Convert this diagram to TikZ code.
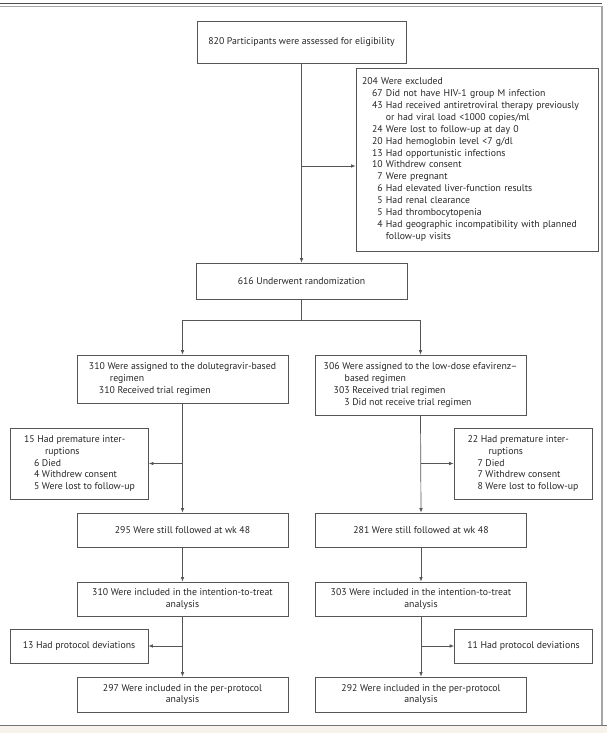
\documentclass[tikz,border=0pt]{standalone}
\usepackage{fontspec}
\setmainfont{PT Sans}
\usepackage{tikz}
\usetikzlibrary{arrows.meta}
\definecolor{marco}{HTML}{555555}
\definecolor{crema}{HTML}{F7F3EC}
\newcommand{\ind}{\hspace*{10bp}}
\newcommand{\cont}{\hspace*{21bp}}
\tikzset{
  caja/.style={draw=marco, line width=0.7pt, inner xsep=6bp, inner ysep=3bp,
    align=center, font=\fontsize{9.8}{12}\selectfont, text=black!85},
  lista/.style={caja, align=left},
  flecha/.style={draw=marco, line width=0.7pt, -{Latex[length=4.5bp,width=3.5bp]}},
}

\begin{document}
\begin{tikzpicture}[x=1bp,y=-1bp]
  \useasboundingbox (0,0) rectangle (607,733);
  % marco de la figura
  \fill[crema] (0,726) rectangle (607,733);
  \draw[black!70, line width=1bp] (0,3.5) -- (602,3.5);
  \draw[black!35, line width=1.5bp] (0,6.5) -- (602,6.5) -- (602,725);
  \draw[black!55, line width=1.5bp] (0,725.5) -- (607,725.5);

  % cribado
  \node[caja, minimum width=209bp, minimum height=42bp] (elig) at (301.5,42)
    {820 Participants were assessed for eligibility};
  \node[lista, text width=230bp, minimum height=183bp] (excl) at (477,159.5)
    {204 Were excluded\\
     \ind 67 Did not have HIV-1 group M infection\\
     \ind 43 Had received antiretroviral therapy previously\\
     \ind\phantom{00}~or had viral load <1000 copies/ml\\
     \ind 24 Were lost to follow-up at day 0\\
     \ind 20 Had hemoglobin level <7 g/dl\\
     \ind 13 Had opportunistic infections\\
     \ind 10 Withdrew consent\\
     \ind\phantom{0}7 Were pregnant\\
     \ind\phantom{0}6 Had elevated liver-function results\\
     \ind\phantom{0}5 Had renal clearance\\
     \ind\phantom{0}5 Had thrombocytopenia\\
     \ind\phantom{0}4 Had geographic incompatibility with planned\\
     \ind\phantom{00}~follow-up visits};
  \node[caja, minimum width=211bp, minimum height=36bp] (rand) at (301.5,281)
    {616 Underwent randomization};

  % asignacion
  \node[lista, minimum width=211bp, minimum height=48bp] (dolA) at (182.5,379)
    {310 Were assigned to the dolutegravir-based\\
     \cont regimen\\
     \ind 310 Received trial regimen};
  \node[lista, minimum width=211bp, minimum height=60bp] (efvA) at (420.5,385)
    {306 Were assigned to the low-dose efavirenz--\\
     \cont based regimen\\
     \ind 303 Received trial regimen\\
     \ind\phantom{30}3 Did not receive trial regimen};

  % interrupciones
  \node[lista, minimum width=138bp, minimum height=71bp] (dolInt) at (79.5,463.5)
    {15 Had premature inter-\\
     \cont ruptions\\
     \ind 6 Died\\
     \ind 4 Withdrew consent\\
     \ind 5 Were lost to follow-up};
  \node[lista, minimum width=138bp, minimum height=71bp] (efvInt) at (523,463.5)
    {22 Had premature inter-\\
     \cont ruptions\\
     \ind 7 Died\\
     \ind 7 Withdrew consent\\
     \ind 8 Were lost to follow-up};

  % seguimiento y analisis
  \node[caja, minimum width=211bp, minimum height=34bp] (dolF) at (182.5,530)
    {295 Were still followed at wk 48};
  \node[caja, minimum width=211bp, minimum height=34bp] (efvF) at (421,530)
    {281 Were still followed at wk 48};
  \node[caja, minimum width=211bp, minimum height=34bp] (dolITT) at (182.5,599)
    {310 Were included in the intention-to-treat\\analysis};
  \node[caja, minimum width=211bp, minimum height=34bp] (efvITT) at (421,599)
    {303 Were included in the intention-to-treat\\analysis};
  \node[caja, minimum width=138bp, minimum height=34bp] (dolDev) at (79,646)
    {13 Had protocol deviations};
  \node[caja, minimum width=138bp, minimum height=34bp] (efvDev) at (523.5,646)
    {11 Had protocol deviations};
  \node[caja, minimum width=211bp, minimum height=35bp] (dolPP) at (182.5,694.5)
    {297 Were included in the per-protocol\\analysis};
  \node[caja, minimum width=211bp, minimum height=35bp] (efvPP) at (421,694.5)
    {292 Were included in the per-protocol\\analysis};

  % flechas
  \coordinate (jexcl) at (301.5,166);
  \coordinate (split) at (301.5,320);
  \draw[flecha] (elig.south) -- (rand.north);
  \draw[flecha] (jexcl) -- (jexcl -| excl.west);
  \draw[marco, line width=0.7pt] (rand.south) -- (split);
  \draw[flecha] (split) -| (dolA.north);
  \draw[flecha] (split) -| (efvA.north);
  \draw[flecha] (dolA.south) -- (dolF.north);
  \draw[flecha] (efvA.south) -- (efvF.north);
  \draw[flecha] (dolA.south |- dolInt.east) -- (dolInt.east);
  \draw[flecha] (efvA.south |- efvInt.west) -- (efvInt.west);
  \draw[flecha] (dolF.south) -- (dolITT.north);
  \draw[flecha] (efvF.south) -- (efvITT.north);
  \draw[flecha] (dolITT.south) -- (dolPP.north);
  \draw[flecha] (efvITT.south) -- (efvPP.north);
  \draw[flecha] (dolITT.south |- dolDev.east) -- (dolDev.east);
  \draw[flecha] (efvITT.south |- efvDev.west) -- (efvDev.west);
\end{tikzpicture}
\end{document}
